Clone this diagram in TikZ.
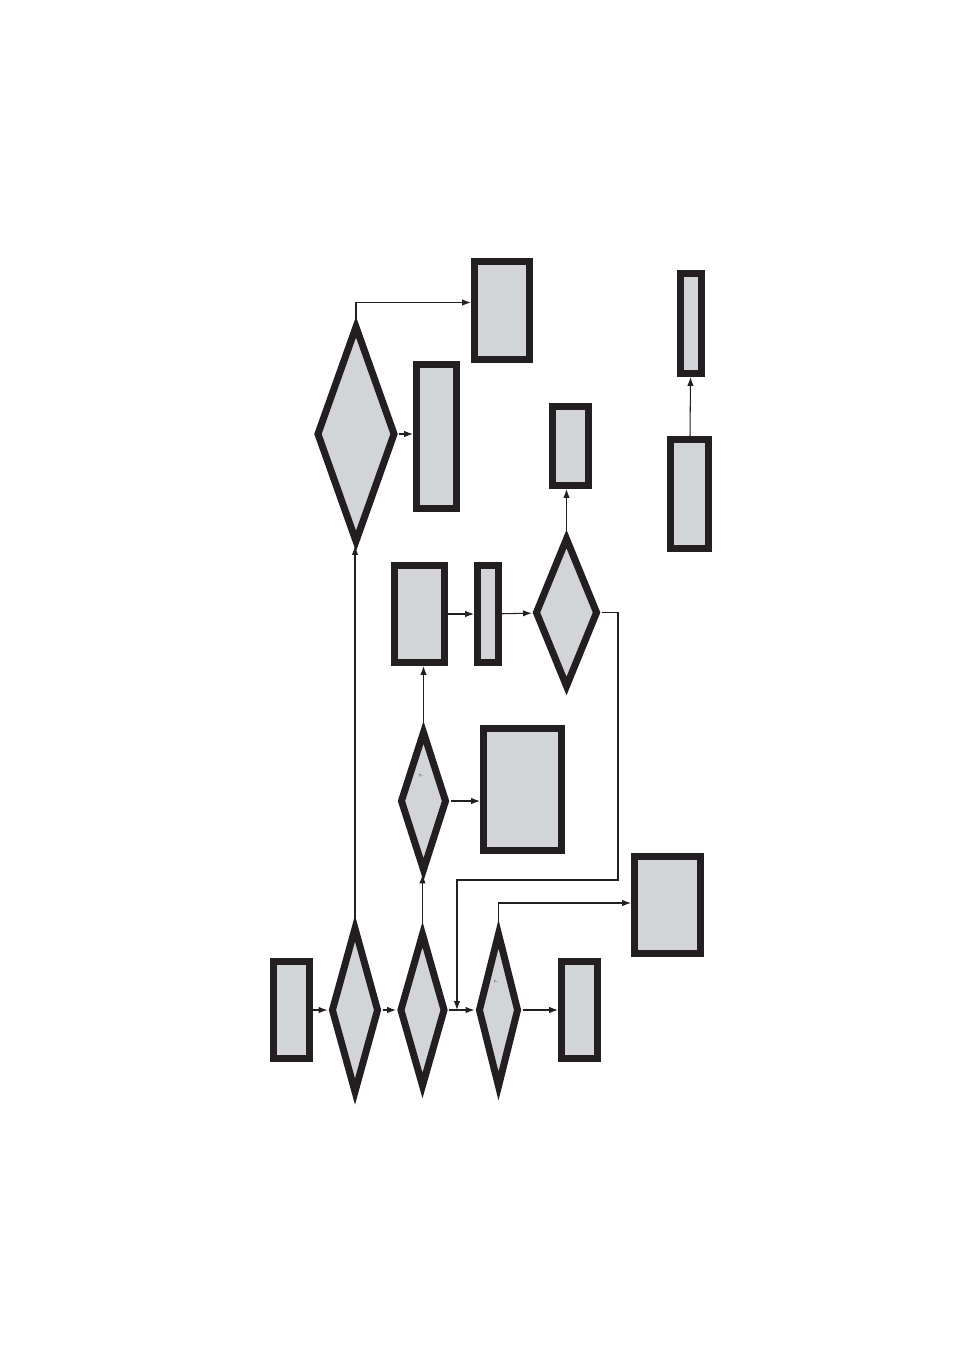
\documentclass[tikz,border=0pt]{standalone}
\usepackage{xcolor}
\usetikzlibrary{shapes.geometric,arrows.meta}
\definecolor{fillgray}{RGB}{211,212,215}
\definecolor{edgeblack}{RGB}{35,31,32}
\begin{document}
\begin{tikzpicture}[x=0.02cm,y=-0.02cm,
  sz/.style 2 args={minimum width=#1*0.02cm,minimum height=#2*0.02cm},
  blk/.style={draw=edgeblack,fill=fillgray,line width=0.14cm,inner sep=0pt},
  dia/.style={blk,diamond,shape aspect=1},
  arr/.style={-{Latex[length=5pt,width=3.6pt]},line width=0.6pt,draw=edgeblack},
  qm/.style={font=\fontsize{3}{3}\selectfont,rotate=90}]
  \useasboundingbox (0,0) rectangle (954,1350);
  % boxes
  \node[blk,sz={36}{97}]  (start) at (291.5,1010) {};
  \node[blk,sz={36}{97}]  (b1)    at (579.5,1010) {};
  \node[blk,sz={66}{97}]  (b2)    at (667.5,905) {};
  \node[blk,sz={78}{122}] (b3)    at (522.5,789.5) {};
  \node[blk,sz={50}{97}]  (b4)    at (419.5,614) {};
  \node[blk,sz={21}{97}]  (b5)    at (488,614) {};
  \node[blk,sz={36}{79}]  (b6)    at (570.5,446) {};
  \node[blk,sz={40}{144}] (b7)    at (436.5,436.5) {};
  \node[blk,sz={55}{98}]  (b8)    at (502,310.5) {};
  \node[blk,sz={38}{109}] (b9)    at (689.5,494) {};
  \node[blk,sz={21}{100}] (b10)   at (691,323.5) {};
  % decisions
  \node[dia,sz={48}{166}] (d1) at (355,1010) {};
  \node[dia,sz={46}{154}] (d2) at (422.5,1010) {};
  \node[dia,sz={41}{155}] (d3) at (498.5,1010) {};
  \node[dia,sz={47}{140}] (d4) at (423.5,801) {};
  \node[dia,sz={63}{150}] (d5) at (566.5,612.5) {};
  \node[dia,sz={79}{217}] (d6) at (356,434) {};
  \node[qm] (q4) at (421,776) {?};
  \node[qm] (q3) at (496,982) {?};
  % connectors
  \coordinate (join) at (457,1010);
  \draw[arr] (start) -- (d1);
  \draw[arr] (d1) -- (d2);
  \draw[arr] (d2) -- (d3);
  \draw[arr] (d3) -- (b1);
  \draw[arr] (d3.north) |- ([yshift=0.04cm]b2.west);
  \draw[arr] (d2.north) -- (d2.north |- d4.south);
  \draw[arr] (d4) -- (d4.east -| b3.west);
  \draw[arr] (d4.north) -- (d4.north |- b4.south);
  \draw[arr] (b4) -- (b5);
  \draw[arr] (b5) -- (d5);
  \draw[arr] (d5.north) -- (d5.north |- b6.south);
  \draw[arr] (d5.east) -| (618,880) -| (join);
  \draw[arr] (d1.north) -- (d1.north |- d6.south);
  \draw[arr] (d6) -- (d6.east -| b7.west);
  \draw[arr] (d6.north) |- ([yshift=0.16cm]b8.west);
  \draw[arr] (b9) -- (b10);
\end{tikzpicture}
\end{document}
